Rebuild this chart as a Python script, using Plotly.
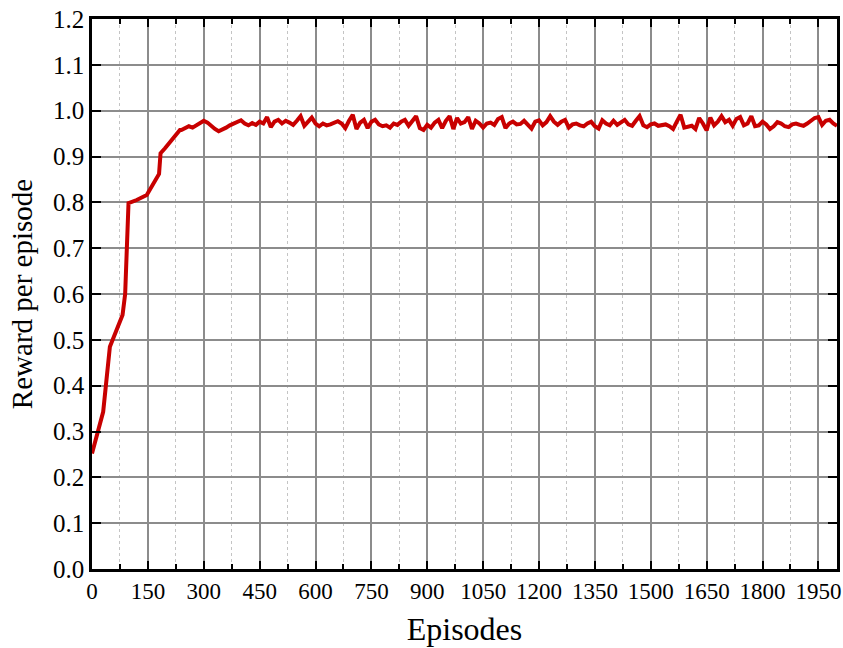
import plotly.graph_objects as go

# early learning phase (episode, reward)
early_episodes = [0, 30, 48, 75, 82, 89, 98, 120, 147, 180, 184, 196, 209, 227, 236]
early_reward = [0.252, 0.343, 0.485, 0.543, 0.554, 0.600, 0.798, 0.805, 0.816, 0.862,
                0.907, 0.918, 0.932, 0.951, 0.958]

# steady phase, one value every 10 episodes from 240 to 2000
steady_episodes = list(range(240, 2001, 10))
steady_reward = [
    0.958, 0.962, 0.966, 0.963, 0.968, 0.972, 0.978, 0.974, 0.966, 0.960,
    0.955, 0.958, 0.963, 0.968, 0.972, 0.976, 0.979, 0.972, 0.968, 0.973,
    0.969, 0.976, 0.972, 0.986, 0.964, 0.976, 0.980,
    0.972, 0.978, 0.974, 0.969, 0.978, 0.988, 0.967, 0.975, 0.985, 0.972,
    0.966, 0.972, 0.968, 0.970, 0.974, 0.977, 0.972, 0.962, 0.978, 0.991,
    0.960, 0.974, 0.980, 0.962, 0.976, 0.980, 0.970, 0.966, 0.968, 0.963,
    0.972, 0.969, 0.976, 0.980, 0.967, 0.978, 0.988, 0.962, 0.958, 0.969,
    0.963, 0.974, 0.980, 0.962, 0.978, 0.988, 0.960, 0.984, 0.972, 0.975,
    0.986, 0.960, 0.978, 0.972, 0.963, 0.972, 0.974, 0.969, 0.982, 0.986,
    0.962, 0.972, 0.976, 0.970, 0.971, 0.978, 0.968, 0.961, 0.976, 0.979,
    0.968, 0.975, 0.988, 0.976, 0.969, 0.976, 0.980, 0.963, 0.970, 0.972,
    0.968, 0.966, 0.972, 0.976, 0.966, 0.961, 0.979, 0.972, 0.968, 0.978,
    0.969, 0.974, 0.980, 0.970, 0.967, 0.978, 0.988, 0.968, 0.964, 0.970,
    0.972, 0.967, 0.968, 0.970, 0.966, 0.960, 0.976, 0.991, 0.963, 0.966,
    0.967, 0.960, 0.984, 0.972, 0.957, 0.985, 0.968, 0.976, 0.988, 0.975,
    0.980, 0.967, 0.982, 0.986, 0.968, 0.972, 0.988, 0.966, 0.968, 0.976,
    0.970, 0.960, 0.966, 0.975, 0.972, 0.966, 0.964, 0.970, 0.972, 0.969,
    0.967, 0.972, 0.977, 0.984, 0.986, 0.969, 0.978, 0.980, 0.972, 0.967,
]

episodes = early_episodes + steady_episodes
reward = early_reward + steady_reward

x_ticks = list(range(0, 2000, 150))
x_minor = list(range(75, 2000, 150))
y_ticks = [round(i * 0.1, 1) for i in range(13)]
y_ticktext = [f"{v:.1f}" for v in y_ticks]

FONT = "Liberation Serif"

fig = go.Figure()
fig.add_trace(go.Scatter(x=episodes, y=reward, mode="lines",
                         line=dict(color="#c80000", width=4), showlegend=False))

fig.update_layout(
    width=843, height=648,
    margin=dict(l=92, r=6, t=19, b=79),
    plot_bgcolor="white", paper_bgcolor="white",
    font=dict(family=FONT, color="black"),
)
fig.update_xaxes(
    range=[0, 2000], tickvals=x_ticks, ticktext=[str(v) for v in x_ticks],
    automargin=False, ticklabeloverflow="allow",
    showline=True, linecolor="black", linewidth=2.5, mirror="ticks",
    ticks="inside", ticklen=8, tickwidth=2, tickcolor="black",
    showgrid=True, gridcolor="#8c8c8c", gridwidth=1.5,
    minor=dict(tickvals=x_minor, ticks="inside", ticklen=5, tickwidth=1.5,
               tickcolor="black", showgrid=True, gridcolor="#c4c4c4", griddash="dot", gridwidth=1),
    tickfont=dict(family=FONT, size=23),
    title=dict(text="Episodes", font=dict(family=FONT, size=32), standoff=15),
    zeroline=False,
)
fig.update_yaxes(
    range=[0, 1.2], tickvals=y_ticks, ticktext=y_ticktext,
    automargin=False,
    showline=True, linecolor="black", linewidth=2.5, mirror="ticks",
    ticks="inside", ticklen=9, tickwidth=2, tickcolor="black",
    showgrid=True, gridcolor="#8c8c8c", gridwidth=1.5,
    tickfont=dict(family=FONT, size=25),
    title=dict(text="Reward per episode", font=dict(family=FONT, size=29), standoff=12),
    zeroline=False,
)

# remove the browser's default 8px page margin so the figure fills the window exactly
fig.write_html("out.html", post_script="document.body.style.margin='0';",
               config={"displayModeBar": False})
